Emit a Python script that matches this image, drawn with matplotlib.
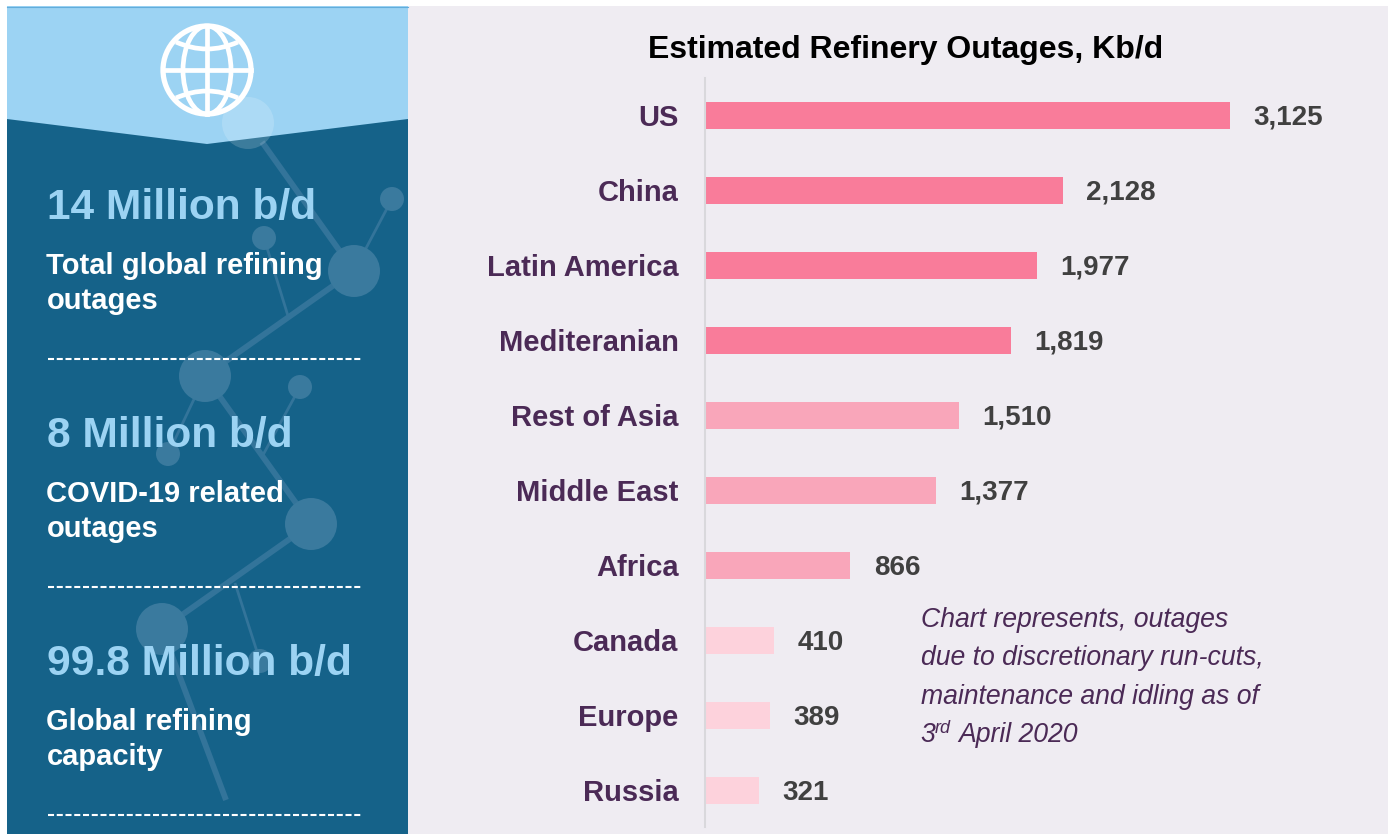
import matplotlib
matplotlib.use('Agg')
import matplotlib.pyplot as plt
from matplotlib.patches import Circle, Ellipse, Polygon, PathPatch, Rectangle
from matplotlib.path import Path

plt.rcParams['font.family'] = ['Liberation Sans', 'DejaVu Sans']

regions = ['US', 'China', 'Latin America', 'Mediteranian', 'Rest of Asia',
           'Middle East', 'Africa', 'Canada', 'Europe', 'Russia']
outages = [3125, 2128, 1977, 1819, 1510, 1377, 866, 410, 389, 321]
bar_colors = ['#F97C9A'] * 4 + ['#F9A6BA'] * 3 + ['#FDD2DC'] * 3

big_numbers = ['14 Million b/d', '8 Million b/d', '99.8 Million b/d']
captions = ['Total global refining\noutages', 'COVID-19 related\noutages',
            'Global refining\ncapacity']
note_lines = ['Chart represents, outages', 'due to discretionary run-cuts,',
              'maintenance and idling as of']

W, H = 1388, 834
DARK = '#156289'
LIGHT = '#9CD3F3'
PURPLE = '#4B2A56'
fig = plt.figure(figsize=(W / 100, H / 100), dpi=100, facecolor='white')

# background layer, drawn in pixel coordinates
bg = fig.add_axes([0, 0, 1, 1])
bg.set_xlim(0, W)
bg.set_ylim(H, 0)
bg.axis('off')

bg.add_patch(Rectangle((408, 6), W - 408, H - 6, fc='#EFECF2', ec='none'))
bg.add_patch(Rectangle((7, 6), 401, H - 6, fc=DARK, ec='none'))
bg.add_patch(Polygon([(7, 6), (408, 6), (408, 119), (207, 144), (7, 119)],
                     fc=LIGHT, ec='none'))
bg.plot([7, 408], [6.5, 6.5], color='#62ADDB', lw=0.8)

# molecule decoration
DECO = '#3A7A9E'
LINK = '#33749A'
thick = [[(262, 142), (354, 271)], [(354, 271), (205, 376)], [(205, 376), (311, 524)],
         [(311, 524), (162, 629)], [(162, 629), (226, 800)]]
thin = [[(354, 271), (392, 199)], [(264, 238), (288, 316)], [(300, 387), (263, 455)],
        [(205, 376), (168, 454)], [(235, 583), (260, 661)]]
for seg in thick:
    bg.plot(*zip(*seg), color=LINK, lw=4.2, solid_capstyle='butt', zorder=2)
for seg in thin:
    bg.plot(*zip(*seg), color=LINK, lw=2, solid_capstyle='butt', zorder=2)
for x, y, r in [(354, 271, 26), (205, 376, 26), (311, 524, 26), (162, 629, 26),
                (392, 199, 12), (264, 238, 12), (300, 387, 12), (168, 454, 12), (260, 661, 12)]:
    bg.add_patch(Circle((x, y), r, fc=DECO, ec='none', zorder=3))
bg.add_patch(Circle((248, 123), 26, fc='white', alpha=0.17, ec='none', zorder=3))

# globe icon
gx, gy = 207, 70
bg.add_patch(Circle((gx, gy), 44, fc='none', ec='white', lw=3.8, zorder=4))
bg.add_patch(Ellipse((gx, gy), 48, 88, fc='none', ec='white', lw=3.4, zorder=4))
bg.plot([gx - 44, gx + 44], [gy, gy], color='white', lw=3.4, zorder=4)
bg.plot([gx, gx], [gy - 44, gy + 44], color='white', lw=3.4, zorder=4)
for y0, yc in [(gy - 28, gy - 14), (gy + 28, gy + 14)]:
    curve = Path([(gx - 31, y0), (gx, yc), (gx + 31, y0)],
                 [Path.MOVETO, Path.CURVE3, Path.CURVE3])
    bg.add_patch(PathPatch(curve, fc='none', ec='white', lw=3.4, zorder=4))

# left panel text
for big, cap, y_big, y_cap, y_dash in zip(big_numbers, captions, [219, 447, 675],
                                          [274, 502, 730], [359, 587, 815]):
    bg.text(47, y_big, big, color=LIGHT, fontsize=30.6, fontweight='bold',
            va='baseline', ha='left', zorder=5)
    first, second = cap.split('\n')
    bg.text(46.5, y_cap, first, color='white', fontsize=21, fontweight='bold',
            va='baseline', ha='left', zorder=5)
    bg.text(46.5, y_cap + 35, second, color='white', fontsize=21, fontweight='bold',
            va='baseline', ha='left', zorder=5)
    bg.plot([48, 363], [y_dash, y_dash], color='white', lw=1.5,
            dashes=(2.9, 1.3), dash_capstyle='butt', zorder=5)

bg.text(906, 46, 'Estimated Refinery Outages, Kb/d', color='black', fontsize=23,
        fontweight='bold', ha='center', va='center_baseline', zorder=5)

# bar chart
ax = fig.add_axes([705 / W, 1 - 827 / H, (W - 705) / W, (827 - 78) / H])
ax.patch.set_alpha(0)
y_pos = list(range(len(regions)))
ax.barh(y_pos, outages, height=0.36, color=bar_colors)
ax.set_xlim(0, (W - 705) * 3125 / 525)
ax.set_ylim(9.487, -0.5)
ax.set_yticks(y_pos)
ax.set_yticklabels(regions, fontsize=21, fontweight='bold', color=PURPLE)
ax.tick_params(axis='y', length=0, pad=19)
ax.set_xticks([])
for side in ['top', 'right', 'bottom']:
    ax.spines[side].set_visible(False)
ax.spines['left'].set_color('#D9D8DC')
ax.spines['left'].set_linewidth(1.5)
for y, v in zip(y_pos, outages):
    ax.annotate(f'{v:,}', (v, y), xytext=(16.8, 0.7), textcoords='offset points',
                color='#404040', fontsize=20, fontweight='bold',
                ha='left', va='center_baseline')

# note
for line, y in zip(note_lines, [627, 665, 704]):
    bg.text(921, y, line, color=PURPLE, fontsize=19.15, style='italic',
            va='baseline', ha='left', zorder=5)
bg.text(920.5, 742, '3', color=PURPLE, fontsize=19.15, style='italic', va='baseline', zorder=5)
bg.text(935, 733, 'rd', color=PURPLE, fontsize=13, style='italic', va='baseline', zorder=5)
bg.text(958.5, 742, 'April 2020', color=PURPLE, fontsize=19.15, style='italic', va='baseline', zorder=5)

fig.savefig('out.png', dpi=100)
